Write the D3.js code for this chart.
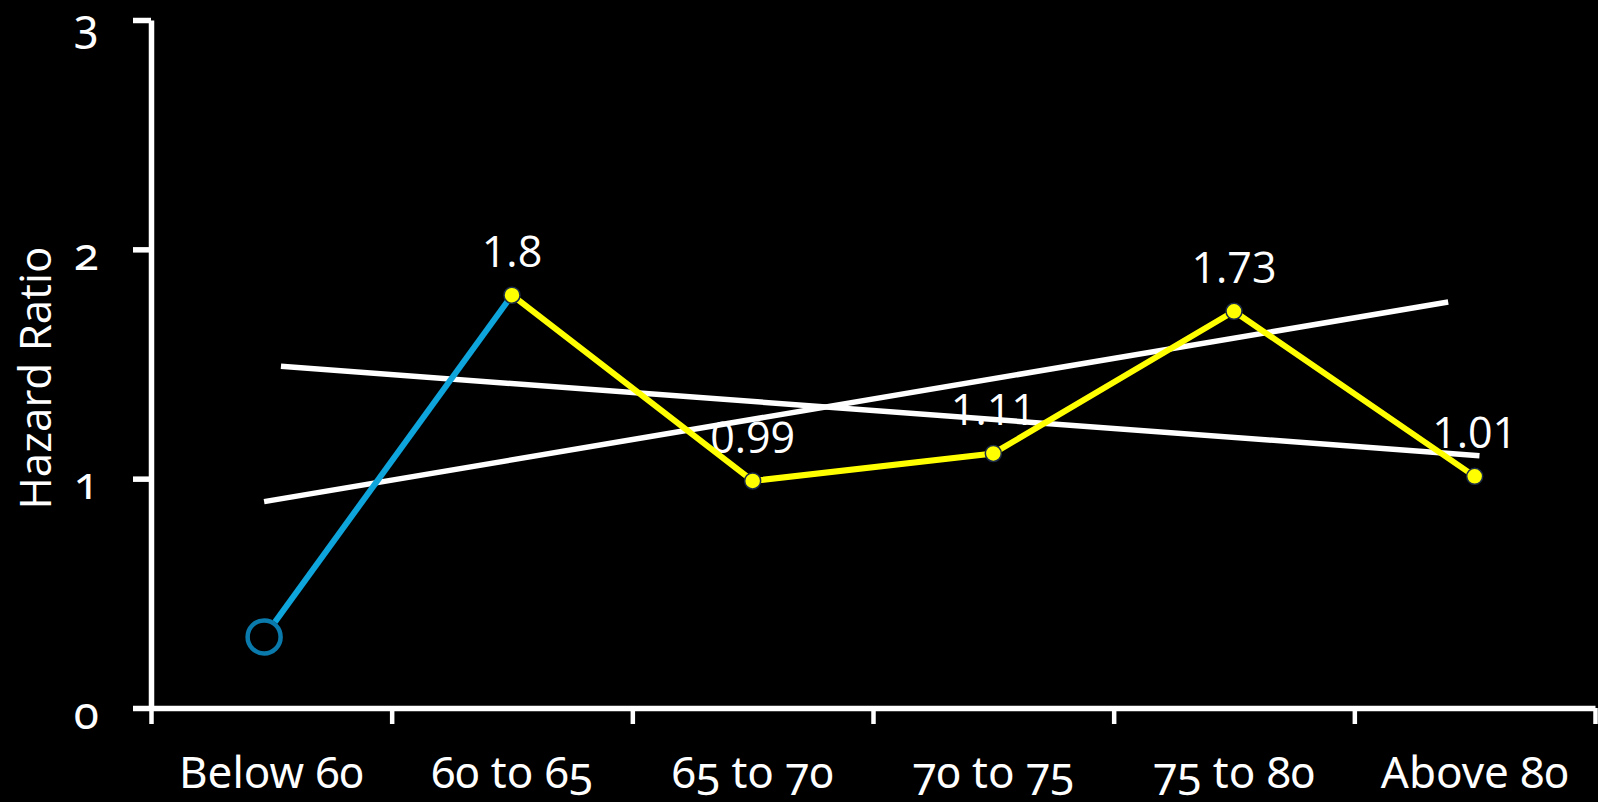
<!DOCTYPE html>
<html>
<head>
<meta charset="utf-8">
<script src="https://cdn.jsdelivr.net/npm/d3@7/dist/d3.min.js"></script>
<style>
  html, body { margin: 0; padding: 0; background: #000; }
  svg { display: block; }
  .num { font-family: "Noto Sans", sans-serif; font-feature-settings: "onum" 1; }
</style>
</head>
<body>
<svg id="chart" width="1598" height="802"></svg>
<script>
// ---- data ----
const categories = ["Below 60", "60 to 65", "65 to 70", "70 to 75", "75 to 80", "Above 80"];
const yTicks = [0, 1, 2, 3];
// blue segment: category position (index) and hazard ratio
const blueX = [-0.03, 1];
const blueValues = [0.31, 1.8];
// yellow series (null = no point)
const yellowValues = [null, 1.8, 0.99, 1.11, 1.73, 1.01];
const labelTexts = [null, "1.8", "0.99", "1.11", "1.73", "1.01"];
// white trend lines: [category position, value]
const trendRising = [[-0.03, 0.90], [4.89, 1.77]];
const trendFalling = [[0.04, 1.49], [5.02, 1.10]];
const yTitle = "Hazard Ratio";

// ---- layout ----
const svg = d3.select("#chart");
const mLeft = 151, mRight = 1595, mTop = 20, mBottom = 708;

const xBand = d3.scaleBand().domain(categories).range([mLeft, mRight]).padding(0);
const xPos = d3.scaleLinear().domain([-0.5, categories.length - 0.5]).range([mLeft, mRight]);
const y = d3.scaleLinear().domain([0, 3]).range([mBottom, mTop]);

svg.append("rect").attr("width", 1598).attr("height", 802).attr("fill", "#000");

// x axis (ticks at band boundaries)
const xAxis = svg.append("g").attr("transform", `translate(0,${mBottom})`)
  .call(d3.axisBottom(xPos)
    .tickValues(d3.range(-0.5, categories.length, 1))
    .tickFormat(() => "")
    .tickSizeInner(16).tickSizeOuter(0));
xAxis.select(".domain").attr("stroke", "#fff").attr("stroke-width", 5.5);
xAxis.selectAll(".tick line").attr("stroke", "#fff").attr("stroke-width", 4.5);

// x labels
const xLab = svg.append("g").attr("transform", `translate(0,${mBottom})`)
  .call(d3.axisBottom(xBand).tickSize(0).tickPadding(0));
xLab.select(".domain").remove();
xLab.selectAll(".tick text")
  .attr("class", "num")
  .attr("fill", "#fff")
  .attr("font-size", 44)
  .attr("dy", null)
  .attr("y", 80);

// y axis
const yAxis = svg.append("g").attr("transform", `translate(${mLeft},0)`)
  .call(d3.axisLeft(y).tickValues(yTicks).tickFormat(d3.format("d"))
    .tickSizeInner(18).tickSizeOuter(0).tickPadding(34));
yAxis.select(".domain").attr("stroke", "#fff").attr("stroke-width", 5.5);
yAxis.selectAll(".tick line").attr("stroke", "#fff").attr("stroke-width", 5.5);
yAxis.selectAll(".tick text")
  .attr("class", "num")
  .attr("fill", "#fff")
  .attr("font-size", 46)
  .attr("dy", null)
  .attr("y", 20);

// y title
svg.append("text")
  .attr("transform", `translate(51,${(mTop + mBottom) / 2 + 14}) rotate(-90)`)
  .attr("text-anchor", "middle")
  .attr("font-family", "'Open Sans', sans-serif")
  .attr("font-size", 44)
  .attr("fill", "#fff")
  .text(yTitle);

// data labels (drawn below the trend lines)
const labelData = categories.map((c, i) => ({ c, v: yellowValues[i], t: labelTexts[i] })).filter(d => d.v != null);
svg.append("g").selectAll("text").data(labelData).join("text")
  .attr("x", d => xBand(d.c) + xBand.bandwidth() / 2)
  .attr("y", d => y(d.v) - 28)
  .attr("text-anchor", "middle")
  .attr("font-family", "'Open Sans', sans-serif")
  .attr("font-size", 43)
  .attr("fill", "#fff")
  .text(d => d.t);

// trend lines
const tline = d3.line().x(d => xPos(d[0])).y(d => y(d[1]));
[trendRising, trendFalling].forEach(t => {
  svg.append("path").attr("d", tline(t))
    .attr("fill", "none").attr("stroke", "#fff").attr("stroke-width", 5.5);
});

// blue segment
const bluePts = blueX.map((x, i) => [x, blueValues[i]]);
const r0 = 16.5;
{
  const p0 = [xPos(bluePts[0][0]), y(bluePts[0][1])];
  const p1 = [xPos(bluePts[1][0]), y(bluePts[1][1])];
  const dx = p1[0] - p0[0], dy = p1[1] - p0[1], L = Math.hypot(dx, dy);
  svg.append("line")
    .attr("x1", p0[0] + dx / L * (r0 + 2)).attr("y1", p0[1] + dy / L * (r0 + 2))
    .attr("x2", p1[0]).attr("y2", p1[1])
    .attr("stroke", "#0ea5dc").attr("stroke-width", 6);
  svg.append("circle").attr("cx", p0[0]).attr("cy", p0[1]).attr("r", r0)
    .attr("fill", "none").attr("stroke", "#0a7aac").attr("stroke-width", 4.5);
}

// yellow line
const yData = categories.map((c, i) => ({ c, v: yellowValues[i] })).filter(d => d.v != null);
const yl = d3.line().x(d => xBand(d.c) + xBand.bandwidth() / 2).y(d => y(d.v));
svg.append("path").attr("d", yl(yData))
  .attr("fill", "none").attr("stroke", "#ffff00").attr("stroke-width", 6).attr("stroke-linejoin", "round");
svg.append("g").selectAll("circle").data(yData).join("circle")
  .attr("cx", d => xBand(d.c) + xBand.bandwidth() / 2)
  .attr("cy", d => y(d.v))
  .attr("r", 8)
  .attr("fill", "#ffff00")
  .attr("stroke", "#1c2c48").attr("stroke-width", 1.5);
</script>
</body>
</html>
